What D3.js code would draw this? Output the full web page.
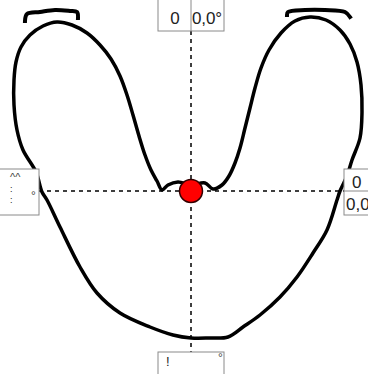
<!DOCTYPE html>
<html>
<head>
<meta charset="utf-8">
<script src="https://cdn.jsdelivr.net/npm/d3@7"></script>
<style>
  html, body { margin: 0; padding: 0; background: #fff; overflow: hidden; }
  svg { display: block; }
  text { font-family: "Liberation Sans", Arial, sans-serif; }
</style>
</head>
<body>
<div id="chart"></div>
<script>
// outline of the contour, relative to the crosshair (x right, y up)
var outlineX = [0, -18, -41, -71, -94, -111, -131, -144, -149, -155, -168, -174, -177, -177, -175, -170, -161, -148, -134, -119,
  -104, -91, -80, -71, -64, -58, -52, -46, -40, -34, -29, -23, -13, 0, 14, 22, 31, 38, 44, 49,
  54, 59, 64, 70, 78, 90, 104, 119, 135, 149, 159, 166, 170, 171, 169, 161, 156, 149, 146, 136,
  122, 106, 89, 69, 52, 37, 18];
var outlineY = [-147, -144, -136, -122, -102, -76, -36, -9, -1, 19, 41, 61, 86, 111, 129, 144, 156, 165, 169, 166,
  158, 146, 132, 115, 96, 76, 55, 36, 21, 10, 1, 6, 9, 6, 8, 2, 6, 15, 28, 43,
  63, 83, 103, 123, 141, 158, 170, 174, 171, 161, 147, 129, 106, 79, 53, 31, 15, 0, -9, -39,
  -62, -86, -106, -124, -136, -146, -147];

// the two caps at the top
var capLeftX = [-166, -164, -151, -136, -121, -114, -113];
var capLeftY = [170, 177, 179, 181, 180, 179, 173];
var capRightX = [96, 97, 114, 134, 154, 159];
var capRightY = [176, 179, 181, 181, 179, 174];

// centre of pressure
var centreX = [0];
var centreY = [0];

// readouts
var topLabels = ["0", "0,0°"];
var rightLabels = ["0", "0,0"];

var W = 368, H = 374;

var x = d3.scaleLinear().domain([-191, 177]).range([0, W]);
var y = d3.scaleLinear().domain([191, -183]).range([0, H]);

var svg = d3.select("#chart").append("svg")
    .attr("width", W)
    .attr("height", H);

var outline = d3.range(outlineX.length).map(function (i) {
    return [outlineX[i], outlineY[i]];
});

var line = d3.line()
    .x(function (d) { return x(d[0]); })
    .y(function (d) { return y(d[1]); })
    .curve(d3.curveCatmullRomClosed.alpha(0.5));

var openLine = d3.line()
    .x(function (d) { return x(d[0]); })
    .y(function (d) { return y(d[1]); })
    .curve(d3.curveCatmullRom.alpha(0.5));

// crosshair
svg.append("line")
    .attr("x1", x(0)).attr("x2", x(0))
    .attr("y1", y(160)).attr("y2", y(-161))
    .attr("stroke", "#000")
    .attr("stroke-width", 1.5)
    .attr("stroke-dasharray", "4,4");

svg.append("line")
    .attr("x1", x(-152)).attr("x2", x(153))
    .attr("y1", y(0)).attr("y2", y(0))
    .attr("stroke", "#000")
    .attr("stroke-width", 1.5)
    .attr("stroke-dasharray", "4,4");

// contour
svg.append("path")
    .attr("d", line(outline))
    .attr("fill", "none")
    .attr("stroke", "#000")
    .attr("stroke-width", 3.5)
    .attr("stroke-linejoin", "round");

[[capLeftX, capLeftY], [capRightX, capRightY]].forEach(function (c) {
    var pts = c[0].map(function (v, i) { return [v, c[1][i]]; });
    svg.append("path")
        .attr("d", openLine(pts))
        .attr("fill", "none")
        .attr("stroke", "#000")
        .attr("stroke-width", 4)
        .attr("stroke-linecap", "square");
});

// boxes
var boxStroke = "#8a8a8a";
var ink = "#222";

// top
var tb = svg.append("g");
tb.append("rect")
    .attr("x", x(-33)).attr("y", -5)
    .attr("width", x(33) - x(-33)).attr("height", y(160) + 5)
    .attr("fill", "#fff").attr("stroke", boxStroke);
tb.append("line")
    .attr("x1", x(0)).attr("x2", x(0))
    .attr("y1", 0).attr("y2", y(160))
    .attr("stroke", boxStroke);
tb.append("text")
    .attr("x", x(-16)).attr("y", 24)
    .attr("text-anchor", "middle")
    .attr("font-size", 17).attr("fill", ink)
    .text(topLabels[0]);
tb.append("text")
    .attr("x", x(1)).attr("y", 24)
    .attr("font-size", 17).attr("fill", ink)
    .attr("textLength", 30)
    .text(topLabels[1]);

// right
var rb = svg.append("g");
rb.append("rect")
    .attr("x", x(153)).attr("y", y(22))
    .attr("width", 40).attr("height", y(-24) - y(22))
    .attr("fill", "#fff").attr("stroke", boxStroke);
rb.append("line")
    .attr("x1", x(153)).attr("x2", W)
    .attr("y1", y(0)).attr("y2", y(0))
    .attr("stroke", boxStroke);
rb.append("text")
    .attr("x", x(161)).attr("y", y(3))
    .attr("font-size", 17).attr("fill", ink)
    .text(rightLabels[0]);
rb.append("text")
    .attr("x", x(155)).attr("y", y(-19))
    .attr("font-size", 17).attr("fill", ink)
    .text(rightLabels[1]);

// left (cut off)
var lb = svg.append("g");
lb.append("rect")
    .attr("x", -10).attr("y", y(22))
    .attr("width", x(-152) + 10).attr("height", y(-24) - y(22))
    .attr("fill", "#fff").attr("stroke", boxStroke);
lb.append("text")
    .attr("x", 10).attr("y", y(10))
    .attr("font-size", 11).attr("fill", "#444")
    .text("^^");
lb.selectAll("text.dots")
    .data([-1, -12])
    .enter().append("text")
    .attr("class", "dots")
    .attr("x", 10).attr("y", function (d) { return y(d); })
    .attr("font-size", 9).attr("fill", "#222")
    .text(":");
lb.append("text")
    .attr("x", 31).attr("y", y(-9))
    .attr("font-size", 12).attr("fill", "#444")
    .text("°");

// bottom (cut off)
var bb = svg.append("g");
bb.append("rect")
    .attr("x", x(-33)).attr("y", y(-161))
    .attr("width", x(33) - x(-33)).attr("height", 30)
    .attr("fill", "#fff").attr("stroke", boxStroke);
bb.append("text")
    .attr("x", x(-25)).attr("y", y(-175))
    .attr("font-size", 13).attr("fill", "#222")
    .text("!");
bb.append("text")
    .attr("x", x(27)).attr("y", y(-171))
    .attr("font-size", 12).attr("fill", "#444")
    .text("°");

// centre point
svg.selectAll("circle.cop")
    .data(centreX)
    .enter().append("circle")
    .attr("class", "cop")
    .attr("cx", function (d) { return x(d); })
    .attr("cy", function (d, i) { return y(centreY[i]); })
    .attr("r", 11.5)
    .attr("fill", "#ff0000")
    .attr("stroke", "#300")
    .attr("stroke-width", 1.5);
</script>
</body>
</html>
